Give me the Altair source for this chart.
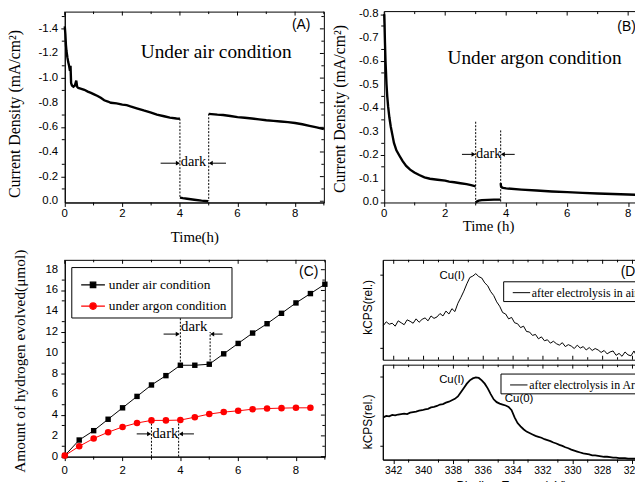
import altair as alt
import pandas as pd

SERIF = "Liberation Serif"
SANS = "Liberation Sans"

# ---------------- Panel A : current density, air ----------------
A_t1 = [0, 0.02, 0.04, 0.06, 0.09, 0.12, 0.15, 0.18, 0.2, 0.22, 0.25, 0.3, 0.35, 0.4, 0.43, 0.47,
        0.55, 0.68, 0.8, 0.91, 1.0, 1.14, 1.25, 1.37, 1.5, 1.6, 1.8, 2.0, 2.15, 2.28, 2.5, 2.74,
        3.0, 3.2, 3.45, 3.65, 3.88, 4.0]
A_v1 = [-1.42, -1.36, -1.27, -1.22, -1.17, -1.13, -1.10, -1.06, -1.10, -0.96, -0.94, -0.93, -0.94,
        -0.98, -0.93, -0.92, -0.915, -0.905, -0.89, -0.88, -0.87, -0.855, -0.84, -0.82, -0.81, -0.80,
        -0.795, -0.785, -0.78, -0.77, -0.755, -0.737, -0.72, -0.703, -0.69, -0.679, -0.672, -0.67]
A_td = [4.0, 4.1, 4.25, 4.5, 4.75, 4.98]
A_vd = [-0.03, -0.025, -0.02, -0.012, -0.005, 0.0]
A_t2 = [5.0, 5.1, 5.3, 5.5, 5.75, 6.0, 6.25, 6.5, 6.75, 7.0, 7.25, 7.5, 7.75, 8.0, 8.25, 8.5, 8.75, 9.0]
A_v2 = [-0.71, -0.708, -0.703, -0.70, -0.692, -0.683, -0.678, -0.672, -0.665, -0.658, -0.653,
        -0.648, -0.642, -0.635, -0.625, -0.612, -0.60, -0.585]
A_dot_t = [4.0, 5.0]
A_dot_v1 = [-0.67, -0.71]
A_dot_v2 = [-0.03, 0.0]
A_arr_t0 = [3.33, 5.6]
A_arr_t1 = [3.93, 5.07]
A_arr_v = [-0.309, -0.309]
A_arr_dir = ["r", "l"]
A_ymaj = [-1.4, -1.2, -1.0, -0.8, -0.6, -0.4, -0.2, 0.0]
A_ylab = ["-1.4", "-1.2", "-1.0", "-0.8", "-0.6", "-0.4", "-0.2", "0.0"]
A_ymin = [-1.5, -1.3, -1.1, -0.9, -0.7, -0.5, -0.3, -0.1]
A_xmaj = [0, 2, 4, 6, 8]
A_xlab = ["0", "2", "4", "6", "8"]
A_xmin = [1, 3, 5, 7, 9]

# ---------------- Panel B : current density, argon ----------------
B_t1 = [0, 0.01, 0.025, 0.043, 0.06, 0.075, 0.1, 0.13, 0.17, 0.216, 0.27, 0.32, 0.4, 0.51, 0.6,
        0.72, 0.85, 0.99, 1.15, 1.32, 1.5, 1.75, 2.0, 2.13, 2.3, 2.5, 2.7, 2.85, 3.0]
B_v1 = [-0.80, -0.76, -0.68, -0.60, -0.55, -0.503, -0.45, -0.405, -0.36, -0.321, -0.285, -0.252,
        -0.22, -0.195, -0.175, -0.154, -0.138, -0.126, -0.115, -0.105, -0.099, -0.095, -0.091,
        -0.087, -0.084, -0.080, -0.076, -0.072, -0.067]
B_td = [3.0, 3.05, 3.1, 3.2, 3.4, 3.6, 3.82]
B_vd = [0.003, -0.003, -0.006, -0.008, -0.009, -0.01, -0.01]
B_t2 = [3.82, 3.83, 3.86, 3.9, 4.0, 4.5, 5.0, 5.5, 6.0, 6.5, 7.0, 7.5, 8.0, 8.27]
B_v2 = [-0.08, -0.068, -0.062, -0.060, -0.058, -0.053, -0.049, -0.045, -0.042, -0.039, -0.036,
        -0.034, -0.032, -0.031]
B_dot_t = [3.0, 3.82]
B_dot_v1 = [-0.342, -0.305]
B_dot_v2 = [0.0, 0.0]
B_arr_t0 = [2.55, 4.28]
B_arr_t1 = [2.93, 3.89]
B_arr_v = [-0.203, -0.203]
B_arr_dir = ["r", "l"]
B_ymaj = [-0.8, -0.7, -0.6, -0.5, -0.4, -0.3, -0.2, -0.1, 0.0]
B_ylab = ["-0.8", "-0.7", "-0.6", "-0.5", "-0.4", "-0.3", "-0.2", "-0.1", "0.0"]
B_ymin = [-0.75, -0.65, -0.55, -0.45, -0.35, -0.25, -0.15, -0.05]
B_xmaj = [0, 2, 4, 6, 8]
B_xlab = ["0", "2", "4", "6", "8"]
B_xmin = [1, 3, 5, 7]

# ---------------- Panel C : hydrogen evolved ----------------
C_series = ["under air condition", "under argon condition"]
C_t_air = [0, 0.5, 1.0, 1.5, 2.0, 2.5, 3.0, 3.5, 4.0, 4.5, 5.0, 5.5, 6.0, 6.5, 7.0, 7.5, 8.0, 8.5, 9.0]
C_air = [0.1, 1.6, 2.5, 3.6, 4.7, 5.8, 6.9, 7.8, 8.8, 8.8, 8.9, 9.9, 10.9, 11.9, 12.8, 13.8, 14.8, 15.7, 16.6]
C_t_ar = [0, 0.5, 1.0, 1.5, 2.0, 2.5, 3.0, 3.5, 4.0, 4.5, 5.0, 5.5, 6.0, 6.5, 7.0, 7.5, 8.0, 8.5]
C_ar = [0.1, 1.0, 1.75, 2.35, 2.86, 3.24, 3.49, 3.49, 3.52, 3.8, 4.1, 4.29, 4.41, 4.57, 4.63, 4.67, 4.7, 4.7]
C_dot_t = [4.0, 5.03, 3.0, 3.94]
C_dot_v1 = [8.8, 8.9, 0.0, 0.0]
C_dot_v2 = [13.4, 12.0, 3.4, 3.55]
C_arr_t0 = [3.42, 5.46, 2.49, 4.47]
C_arr_t1 = [3.91, 5.1, 2.92, 4.02]
C_arr_v = [11.8, 11.8, 2.19, 2.19]
C_arr_dir = ["r", "l", "r", "l"]
C_ymaj = [0, 2, 4, 6, 8, 10, 12, 14, 16, 18]
C_ylab = ["0", "2", "4", "6", "8", "10", "12", "14", "16", "18"]
C_ymin = [1, 3, 5, 7, 9, 11, 13, 15, 17]
C_xmaj = [0, 2, 4, 6, 8]
C_xlab = ["0", "2", "4", "6", "8"]
C_xmin = [1, 3, 5, 7, 9]

# ---------------- Panel D : XPS ----------------
D_ev = [342.7, 342.5, 342.3, 342.1, 341.9, 341.7, 341.5, 341.3, 341.1, 340.9, 340.7, 340.5, 340.3,
        340.1, 339.9, 339.7, 339.5, 339.3, 339.1, 338.9, 338.7, 338.5, 338.3, 338.1, 337.9, 337.7,
        337.5, 337.3, 337.1, 336.9, 336.7, 336.5, 336.3, 336.1, 335.9, 335.7, 335.5, 335.3, 335.1,
        334.9, 334.7, 334.5, 334.3, 334.1, 333.9, 333.7, 333.5, 333.3, 333.1, 332.9, 332.7, 332.5,
        332.3, 332.1, 331.9, 331.7, 331.5, 331.3, 331.1, 330.9, 330.7, 330.5, 330.3, 330.1, 329.9,
        329.7, 329.5, 329.3, 329.1, 328.9, 328.7, 328.5, 328.3, 328.1, 327.9, 327.7, 327.5, 327.3,
        327.1, 326.9, 326.7, 326.5, 326.3, 326.1, 325.9, 325.7, 325.5]
D_air = [35, 39, 36.5, 37.5, 34.5, 40, 38, 36, 41, 39.5, 37.5, 42, 38.5, 41.5, 43, 40, 45, 42.5,
         44, 47.5, 45, 50, 47, 52.5, 49.5, 58, 64, 70.5, 78, 84.5, 86, 88.5, 85.5, 84, 79, 76, 70,
         66, 59.5, 55, 48.5, 47, 42, 43.5, 38, 37, 33, 34.5, 29, 28.5, 25, 26, 21.5, 23.5, 19.5,
         20.5, 17, 19, 16.5, 15, 17.5, 13.5, 15.5, 14, 11.5, 15, 12, 13.5, 10, 12.5, 9.5, 11.5, 10,
         7.5, 9.5, 6, 8, 9, 4.5, 6.5, 3.5, 8, 5, 4, 9, 3, 7.5]
D_ar = [44.5, 46, 45.5, 47, 46.5, 47.5, 48, 48.5, 48, 49.5, 50, 50.5, 51.5, 52, 53, 53.5, 55, 55.5,
        56.5, 58, 58.5, 60, 61, 62.5, 64, 66.5, 71, 75.5, 80, 83.5, 85.5, 86.5, 86, 83.5, 80, 75,
        69, 63.5, 60.5, 59, 58, 57, 55.5, 52, 44.5, 38.5, 35, 32, 29.5, 28, 26.5, 25, 24, 23, 21.5,
        20.5, 19.5, 18, 17, 15.5, 14.5, 13, 12, 10.5, 9.5, 8.5, 7.5, 6.5, 6, 5.5, 4.5, 4.5, 4, 3.5,
        3, 3, 2.5, 2, 2, 1.5, 1.5, 1.5, 1, 1, 1, 1, 0.5]
D_air_label = "after electrolysis in air"
D_ar_label = "after electrolysis in Ar"
D_xmaj = [342, 340, 338, 336, 334, 332, 330, 328, 326]
D_xlab = ["342", "340", "338", "336", "334", "332", "330", "328", "326"]
D_xmin = [341, 339, 337, 335, 333, 331, 329, 327]
D1_yt = [12.5, 25, 37.5, 50, 62.5, 75, 87.5]
D2_yt = [14.5, 39, 63.5, 88]
D2_ytr = [2.2, 14.5, 26.8, 39, 51.3, 63.5, 75.8, 88]

# annotation texts: (x, y, text)
A_notes = [(5.26, -1.162, "Under air condition"), (8.21, -1.40, "(A)"), (4.47, -0.29, "dark")]
B_notes = [(4.93, -0.589, "Under argon condition"), (8.25, -0.727, "(B)"), (3.43, -0.186, "dark")]
C_notes = [(8.44, 17.36, "(C)"), (4.48, 12.12, "dark"), (3.48, 1.81, "dark")]
D1_notes = [(338.09, 83.1, "Cu(I)"), (326.15, 85.7, "(D)")]
D2_notes = [(338.11, 80.2, "Cu(I)"), (333.6, 61.1, "Cu(0)")]


# ---------------- helpers (secondary layers: no axis spec, the main layer owns the axes) --------
def yrules(vals, ys, x1, x2):
    return alt.Chart(pd.DataFrame({"v": vals})).mark_rule(color="black", strokeWidth=1).encode(
        y=alt.Y("v:Q", scale=ys), x=alt.value(x1), x2=alt.value(x2))


def xrules(vals, xs, y1, y2):
    return alt.Chart(pd.DataFrame({"u": vals})).mark_rule(color="black", strokeWidth=1).encode(
        x=alt.X("u:Q", scale=xs), y=alt.value(y1), y2=alt.value(y2))


def ylabels(vals, labs, ys, xoff, size=11.5):
    return alt.Chart(pd.DataFrame({"v": vals, "s": labs})).mark_text(
        font=SANS, fontSize=size, align="right", baseline="middle", color="black").encode(
        y=alt.Y("v:Q", scale=ys), x=alt.value(xoff), text="s:N")


def xlabels(vals, labs, xs, yoff, size=11.5):
    return alt.Chart(pd.DataFrame({"u": vals, "s": labs})).mark_text(
        font=SANS, fontSize=size, align="center", baseline="top", color="black").encode(
        x=alt.X("u:Q", scale=xs), y=alt.value(yoff), text="s:N")


def spacer(x1, y1, x2, y2):
    # invisible layout guard: fixes the extent each panel occupies in the concat layout
    return alt.Chart(pd.DataFrame({"a": [0]})).mark_rule(opacity=0, strokeWidth=0).encode(
        x=alt.value(x1), x2=alt.value(x2), y=alt.value(y1), y2=alt.value(y2))


def text_layer(note, xs, ys, font, size, align="center"):
    x, y, s = note
    return alt.Chart(pd.DataFrame({"x": [x], "y": [y], "s": [s]})).mark_text(
        font=font, fontSize=size, align=align, baseline="alphabetic", color="black").encode(
        x=alt.X("x:Q", scale=xs), y=alt.Y("y:Q", scale=ys), text="s:N")


def dotted(ts, v1, v2, xs, ys):
    df = pd.DataFrame({"t": ts, "v1": v1, "v2": v2})
    return alt.Chart(df).mark_rule(color="black", strokeWidth=1, strokeDash=[2, 1.5]).encode(
        x=alt.X("t:Q", scale=xs), y=alt.Y("v1:Q", scale=ys), y2="v2:Q")


def arrows(t0, t1, v, d, xs, ys):
    df = pd.DataFrame({"t0": t0, "t1": t1, "v": v, "d": d})
    base = alt.Chart(df)
    shaft = base.mark_rule(color="black", strokeWidth=1).encode(
        x=alt.X("t0:Q", scale=xs), x2="t1:Q", y=alt.Y("v:Q", scale=ys))
    right = base.transform_filter("datum.d == 'r'").mark_point(
        shape="triangle-right", filled=True, size=22, color="black", opacity=1).encode(
        x=alt.X("t1:Q", scale=xs), y=alt.Y("v:Q", scale=ys))
    left = base.transform_filter("datum.d == 'l'").mark_point(
        shape="triangle-left", filled=True, size=22, color="black", opacity=1).encode(
        x=alt.X("t1:Q", scale=xs), y=alt.Y("v:Q", scale=ys))
    return [shaft, right, left]


def y_axis(values, title, tx, ty, tfont=SERIF, tsize=16, tick=4):
    return alt.Axis(values=values, title=title, titleX=tx, titleY=ty, titleAngle=270, titleAlign="center",
                    titleBaseline="middle", titleFont=tfont, titleFontSize=tsize, titleFontWeight="normal",
                    titleColor="black", tickSize=tick, tickColor="black", domainColor="black", grid=False,
                    labels=False, ticks=True, domain=True)


def x_axis(values, title, tx, ty, tfont=SERIF, tsize=15):
    return alt.Axis(values=values, title=title, titleX=tx, titleY=ty, titleAlign="center",
                    titleBaseline="middle", titleFont=tfont, titleFontSize=tsize,
                    titleFontWeight="normal", titleColor="black", tickSize=4,
                    tickColor="black", domainColor="black", grid=False, labels=False, ticks=True,
                    domain=True)


# ---------------- Panel A ----------------
WA, HA = 262, 193
xsA = alt.Scale(domain=[0, 9], nice=False, zero=False)
ysA = alt.Scale(domain=[-1.54, 0.01], reverse=True, nice=False, zero=False)
dfA = pd.DataFrame({"t": A_t1 + A_td + A_t2, "v": A_v1 + A_vd + A_v2,
                    "seg": ["a"] * len(A_t1) + ["d"] * len(A_td) + ["b"] * len(A_t2)})
lineA = alt.Chart(dfA).mark_line(color="black", strokeWidth=2.4).encode(
    x=alt.X("t:Q", scale=xsA, axis=x_axis(A_xmaj, "Time(h)", WA / 2, 34)),
    y=alt.Y("v:Q", scale=ysA, axis=y_axis(A_ymaj, "Current Density (mA/cm\u00b2)", -50.4, 103)),
    detail="seg:N")
layersA = [lineA, spacer(-60, -25, 266, 250), dotted(A_dot_t, A_dot_v1, A_dot_v2, xsA, ysA)]
layersA += arrows(A_arr_t0, A_arr_t1, A_arr_v, A_arr_dir, xsA, ysA)
layersA += [yrules(A_ymin, ysA, -3, 0), yrules(A_ymaj, ysA, WA - 4, WA), yrules(A_ymin, ysA, WA - 2.5, WA),
            xrules(A_xmin, xsA, HA, HA + 3), xrules(A_xmaj, xsA, 0, 4), xrules(A_xmin, xsA, 0, 2.5),
            ylabels(A_ymaj, A_ylab, ysA, -6.7), xlabels(A_xmaj, A_xlab, xsA, HA + 5.2)]
layersA += [text_layer(A_notes[0], xsA, ysA, SERIF, 19.5), text_layer(A_notes[1], xsA, ysA, SANS, 14),
            text_layer(A_notes[2], xsA, ysA, SERIF, 14.5)]
panelA = alt.layer(*layersA).properties(width=WA, height=HA)

# ---------------- Panel B ----------------
WB, HB = 255, 193
xsB = alt.Scale(domain=[0, 8.27], nice=False, zero=False)
ysB = alt.Scale(domain=[-0.8113, 0.002], reverse=True, nice=False, zero=False)
dfB = pd.DataFrame({"t": B_t1 + B_td + B_t2, "v": B_v1 + B_vd + B_v2,
                    "seg": ["a"] * len(B_t1) + ["d"] * len(B_td) + ["b"] * len(B_t2)})
lineB = alt.Chart(dfB).mark_line(color="black", strokeWidth=2.4).encode(
    x=alt.X("t:Q", scale=xsB, axis=x_axis(B_xmaj, "Time (h)", 105, 23.5)),
    y=alt.Y("v:Q", scale=ysB, axis=y_axis(B_ymaj, "Current Density (mA/cm\u00b2)", -45, 98)),
    detail="seg:N")
topB = alt.Chart(pd.DataFrame({"a": [0]})).mark_rule(color="black", strokeWidth=1).encode(
    x=alt.value(0), x2=alt.value(WB), y=alt.value(0))
layersB = [lineB, spacer(-55, -25, 100, 250), dotted(B_dot_t, B_dot_v1, B_dot_v2, xsB, ysB), topB]
layersB += arrows(B_arr_t0, B_arr_t1, B_arr_v, B_arr_dir, xsB, ysB)
layersB += [yrules(B_ymin, ysB, -3, 0), xrules(B_xmin, xsB, HB, HB + 3),
            xrules(B_xmaj, xsB, 0, 4), xrules(B_xmin, xsB, 0, 2.5),
            ylabels(B_ymaj, B_ylab, ysB, -5.7), xlabels(B_xmaj, B_xlab, xsB, HB + 5.5)]
layersB += [text_layer(B_notes[0], xsB, ysB, SERIF, 19.5), text_layer(B_notes[1], xsB, ysB, SANS, 14, "right"),
            text_layer(B_notes[2], xsB, ysB, SERIF, 14.5)]
panelB = alt.layer(*layersB).properties(width=WB, height=HB, view=alt.ViewBackground(stroke="transparent"))

# ---------------- Panel C ----------------
WC, HC = 263, 199
xsC = alt.Scale(domain=[0, 9], nice=False, zero=False)
ysC = alt.Scale(domain=[0, 18.95], nice=False, zero=False)
dfAir = pd.DataFrame({"t": C_t_air, "v": C_air})
dfAr = pd.DataFrame({"t": C_t_ar, "v": C_ar})
airLine = alt.Chart(dfAir).mark_line(color="black", strokeWidth=1).encode(
    x=alt.X("t:Q", scale=xsC, axis=x_axis(C_xmaj, "Time(h)", WC / 2, 34)),
    y=alt.Y("v:Q", scale=ysC, axis=y_axis(C_ymaj, "Amount of hydrogen evolved(\u03bcmol)", -45.7, 102,
                                         tsize=15.5)))
airPts = alt.Chart(dfAir).mark_point(shape="square", filled=True, size=30, color="black", opacity=1).encode(
    x=alt.X("t:Q", scale=xsC), y=alt.Y("v:Q", scale=ysC))
arLine = alt.Chart(dfAr).mark_line(color="#ff0000", strokeWidth=1).encode(
    x=alt.X("t:Q", scale=xsC), y=alt.Y("v:Q", scale=ysC))
arPts = alt.Chart(dfAr).mark_point(shape="circle", filled=True, size=44, color="#ff0000", opacity=1).encode(
    x=alt.X("t:Q", scale=xsC), y=alt.Y("v:Q", scale=ysC))
legC = alt.Legend(orient="none", legendX=6.6, legendY=7.3, title=None, strokeColor="black",
                  fillColor="white", padding=5, labelFont=SERIF, labelFontSize=13.5, labelColor="black",
                  symbolSize=576, symbolStrokeWidth=1.2, symbolOffset=4, labelOffset=3, rowPadding=1.5,
                  symbolOpacity=1, labelLimit=300)
dfLeg = pd.DataFrame({"s": C_series, "t": [0, 0], "v": [0, 0]})
SHAPES = ["M-1,0H1M-0.23,-0.23H0.23V0.23H-0.23Z",
          "M-1,0H1M0.27,0A0.27,0.27,0,1,1,-0.27,0A0.27,0.27,0,1,1,0.27,0Z"]
legLayer = alt.Chart(dfLeg).transform_filter("false").mark_point(filled=True, opacity=1).encode(
    x=alt.X("t:Q", scale=xsC), y=alt.Y("v:Q", scale=ysC),
    color=alt.Color("s:N", scale=alt.Scale(domain=C_series, range=["black", "#ff0000"]), legend=legC),
    stroke=alt.Stroke("s:N", scale=alt.Scale(domain=C_series, range=["black", "#ff0000"]), legend=legC),
    shape=alt.Shape("s:N", scale=alt.Scale(domain=C_series, range=SHAPES), legend=legC))
layersC = [airLine, spacer(-60, -45, 268, 244), dotted(C_dot_t, C_dot_v1, C_dot_v2, xsC, ysC),
           arLine, airPts, arPts, legLayer]
layersC += arrows(C_arr_t0, C_arr_t1, C_arr_v, C_arr_dir, xsC, ysC)
layersC += [yrules(C_ymin, ysC, -3, 0), yrules(C_ymaj, ysC, WC - 4, WC), yrules(C_ymin, ysC, WC - 2.5, WC),
            xrules(C_xmin, xsC, HC, HC + 3), xrules(C_xmaj, xsC, 0, 4), xrules(C_xmin, xsC, 0, 2.5),
            ylabels(C_ymaj, C_ylab, ysC, -6.7), xlabels(C_xmaj, C_xlab, xsC, HC + 8.2)]
layersC += [text_layer(C_notes[0], xsC, ysC, SANS, 14), text_layer(C_notes[1], xsC, ysC, SERIF, 15),
            text_layer(C_notes[2], xsC, ysC, SERIF, 15)]
panelC = alt.layer(*layersC).properties(width=WC, height=HC)

# ---------------- Panel D ----------------
WD, HD1, HD2 = 260, 101, 96
xsD = alt.Scale(domain=[325.5, 342.73], reverse=True, nice=False, zero=False)
ysD1 = alt.Scale(domain=[0, 102.7], nice=False, zero=False)
ysD2 = alt.Scale(domain=[0, 100], nice=False, zero=False)
dfD1 = pd.DataFrame({"e": D_ev, "c": D_air, "lab": [D_air_label] * len(D_ev)})
dfD2 = pd.DataFrame({"e": D_ev, "c": D_ar, "lab": [D_ar_label] * len(D_ev)})


def d_legend(lx, ly):
    return alt.Legend(orient="none", legendX=lx, legendY=ly, title=None, strokeColor="black",
                      fillColor="white", padding=2, labelFont=SERIF, labelFontSize=12,
                      labelColor="black", symbolType="stroke", symbolSize=310, symbolStrokeWidth=1,
                      symbolOffset=7, labelOffset=1, labelLimit=300)


lineD1 = alt.Chart(dfD1).mark_line(strokeWidth=1).encode(
    x=alt.X("e:Q", scale=xsD, axis=None),
    y=alt.Y("c:Q", scale=ysD1, axis=y_axis(D1_yt, "kCPS(rel.)", -15.2, 47.5, tfont=SANS, tsize=12, tick=3)),
    color=alt.Color("lab:N", scale=alt.Scale(domain=[D_air_label], range=["black"]),
                    legend=d_legend(121.7, 21.7)))
layersD1 = [lineD1, spacer(-24, -40.5, 100, 105), yrules(D1_yt, ysD1, WD - 3, WD),
            xrules(D_xmaj, xsD, 0, 4), xrules(D_xmin, xsD, 0, 2.5),
            xrules(D_xmaj, xsD, HD1 - 4, HD1), xrules(D_xmin, xsD, HD1 - 2.5, HD1),
            text_layer(D1_notes[0], xsD, ysD1, SANS, 11.5), text_layer(D1_notes[1], xsD, ysD1, SANS, 14)]
panelD1 = alt.layer(*layersD1).properties(width=WD, height=HD1)

lineD2 = alt.Chart(dfD2).mark_line(strokeWidth=1.8).encode(
    x=alt.X("e:Q", scale=xsD, axis=x_axis(D_xmaj, "Binding Energy (eV)", WD / 2, 26, tfont=SANS, tsize=12.5)),
    y=alt.Y("c:Q", scale=ysD2, axis=y_axis(D2_yt, "kCPS(rel.)", -15.2, 57.3, tfont=SANS, tsize=12, tick=3)),
    color=alt.Color("lab:N", scale=alt.Scale(domain=[D_ar_label], range=["black"]),
                    legend=d_legend(119, 9)))
layersD2 = [lineD2, spacer(-24, -5, 100, 50), yrules(D2_ytr, ysD2, WD - 3, WD),
            xrules(D_xmaj, xsD, 0, 4), xrules(D_xmin, xsD, 0, 2.5),
            xrules(D_xmin, xsD, HD2, HD2 + 3), xlabels(D_xmaj, D_xlab, xsD, HD2 + 6.5, 10.5),
            text_layer(D2_notes[0], xsD, ysD2, SANS, 11.5), text_layer(D2_notes[1], xsD, ysD2, SANS, 11.5)]
panelD2 = alt.layer(*layersD2).properties(width=WD, height=HD2)

panelD = alt.vconcat(panelD1, panelD2, spacing=-9).resolve_scale(color="independent")

top = alt.hconcat(panelA, panelB, spacing=-1)
bottom = alt.hconcat(panelC, panelD, spacing=27.6).resolve_scale(
    color="independent", stroke="independent", shape="independent")

# fixed-size canvas (no auto sizing): the page can never overflow the 643x489 window
chart = alt.vconcat(top, bottom, spacing=-71).resolve_scale(
    color="independent", stroke="independent", shape="independent").properties(
    autosize=alt.AutoSizeParams(type="none"),
    padding={"left": 57.4, "top": 1, "right": 576.6, "bottom": 473}, background="white"
).configure_view(stroke="black", strokeWidth=1)

chart.save("out.html", embed_options={"renderer": "svg", "actions": False})
